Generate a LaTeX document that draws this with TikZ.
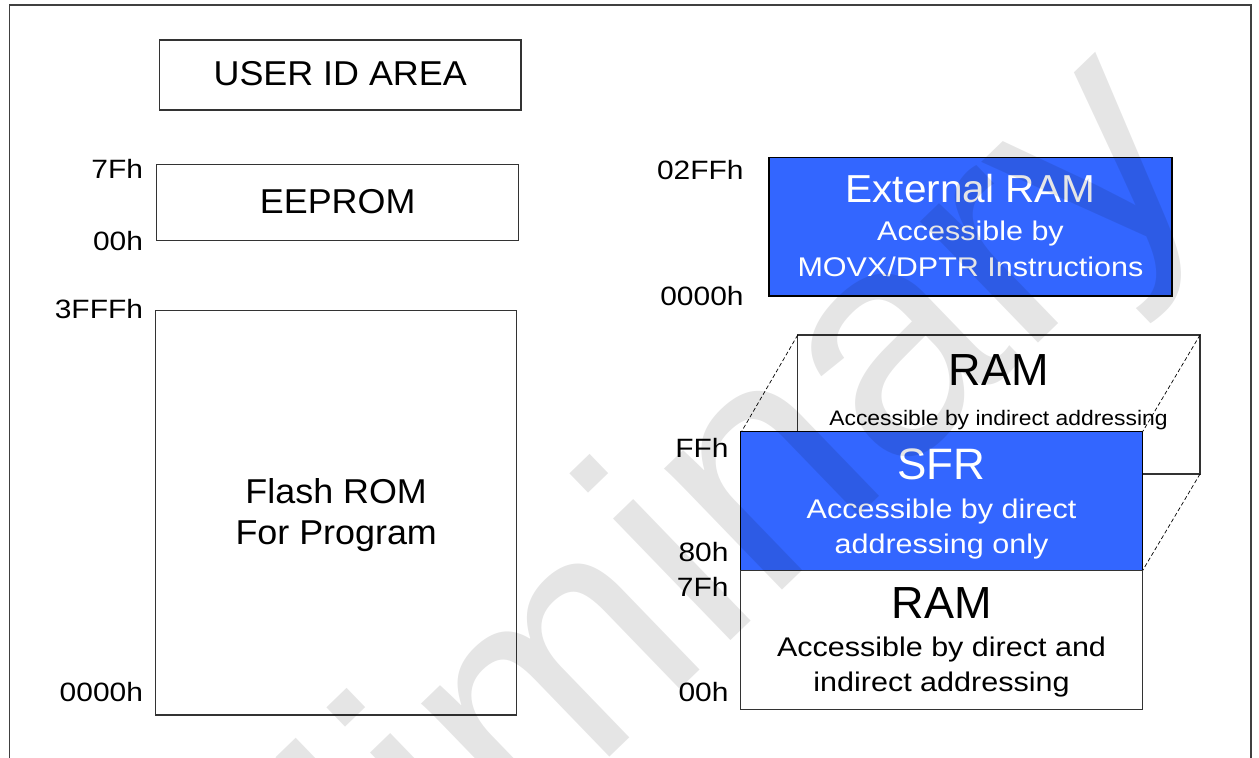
\documentclass[tikz,border=0pt]{standalone}
\usepackage{fontspec}
\setmainfont{Liberation Sans}
\newfontfamily\fS[FakeStretch=1.13]{Liberation Sans}
\newfontfamily\fM[FakeStretch=1.04]{Liberation Sans}
\newfontfamily\fR[FakeStretch=1.09]{Liberation Sans}
\definecolor{ramblue}{HTML}{3366FF}
\begin{document}
\begin{tikzpicture}[x=1pt,y=-1pt,
  framestyle/.style={draw=black!75, line width=1.1pt},
  box/.style={draw=black!80, line width=1.1pt, fill=white, inner sep=0pt, outer sep=0pt},
  bluebox/.style={box, draw=black, fill=ramblue},
  txt/.style={anchor=base, inner sep=0pt, outer sep=0pt},
  wtxt/.style={txt, text=white},
  lbl/.style={anchor=base east, inner sep=0pt, outer sep=0pt, font=\fS\fontsize{26.5}{30}\selectfont},
  small/.style={font=\fS\fontsize{27}{31}\selectfont},
  mid/.style={font=\fM\fontsize{34.5}{40}\selectfont},
  big/.style={font=\fontsize{45}{50}\selectfont},
  dashline/.style={draw=black, line width=0.7pt, dash pattern=on 4pt off 2.5pt},
  wm/.style={anchor=base west, inner sep=0pt, outer sep=0pt, text=black, text opacity=0.1, font=\fontsize{320}{320}\selectfont}
]
\useasboundingbox (0,0) rectangle (1259,758);
\clip (0,0) rectangle (1259,758);

% outer frame
\coordinate (fbl) at (9.5,775);
\coordinate (ftl) at (9.5,5);
\coordinate (ftr) at (1251,5);
\coordinate (fbr) at (1251,775);
\draw[framestyle] (fbl) -- (ftl) -- (ftr) -- (fbr);

% left column
\node[box, minimum width=361.7pt, minimum height=70pt] (uid) at (340.15,75) {};
\node[box, minimum width=362pt, minimum height=76.4pt] (eeprom) at (337.7,202.5) {};
\node[box, minimum width=361.2pt, minimum height=404.3pt] (flash) at (336.2,512.85) {};

\node[txt, mid] (tuid) at (340.2,85) {USER ID AREA};
\node[txt, mid] (teep) at (337.7,213.3) {EEPROM};
\node[txt, mid] (tfl1) at (336.2,503.3) {Flash ROM};
\node[txt, mid] (tfl2) at (336.2,544) {For Program};

\node[lbl] (l7f) at (143,178.3) {7Fh};
\node[lbl] (l00) at (143,250) {00h};
\node[lbl] (l3fff) at (143,318.3) {3FFFh};
\node[lbl] (l0000) at (143,701.7) {0000h};

% right column
\node[bluebox, minimum width=403pt, minimum height=138.7pt] (ext) at (970.5,226.65) {};
\node[box, minimum width=402.3pt, minimum height=139pt] (ramhi) at (998.85,404.5) {};
\draw[dashline] (ramhi.north west) -- (741.2,432.2) coordinate (sfrnw);
\draw[dashline] (ramhi.north east) -- (1142.3,432.2) coordinate (sfrne);
\draw[dashline] (ramhi.south east) -- (1142.3,571) coordinate (sfrse);
\node[bluebox, minimum width=401.6pt, minimum height=139pt] (sfr) at (941.5,501.2) {};
\node[box, minimum width=401.6pt, minimum height=138.6pt] (ramlo) at (941.5,640) {};

\node[wtxt, font=\fM\fontsize{39}{44}\selectfont] (text1) at (970.5,202.7) {External RAM};
\node[wtxt, small] (text2) at (970.5,240) {Accessible by};
\node[wtxt, small] (text3) at (970.5,276.7) {MOVX/DPTR Instructions};

\node[txt, big] (trh1) at (998.5,385) {RAM};
\node[txt, font=\fR\fontsize{21}{25}\selectfont] (trh2) at (998.5,425) {Accessible by indirect addressing};

\node[wtxt, font=\fontsize{44}{48}\selectfont] (tsf1) at (941.5,479.3) {SFR};
\node[wtxt, small] (tsf2) at (941.5,518.3) {Accessible by direct};
\node[wtxt, small] (tsf3) at (941.5,553.3) {addressing only};

\node[txt, big] (trl1) at (941.5,618.3) {RAM};
\node[txt, small] (trl2) at (941.5,656.7) {Accessible by direct and};
\node[txt, small] (trl3) at (941.5,691.7) {indirect addressing};

\node[lbl] (l02ff) at (743.6,179.3) {02FFh};
\node[lbl] (l0000b) at (743.6,305) {0000h};
\node[lbl] (lff) at (728.5,457.3) {FFh};
\node[lbl] (l80) at (728.5,561.7) {80h};
\node[lbl] (l7fb) at (728.5,596.7) {7Fh};
\node[lbl] (l00b) at (728.5,701.7) {00h};

% watermark
\node[wm, rotate=44] (wmark) at (63,1285) {Preliminary};
\end{tikzpicture}
\end{document}
